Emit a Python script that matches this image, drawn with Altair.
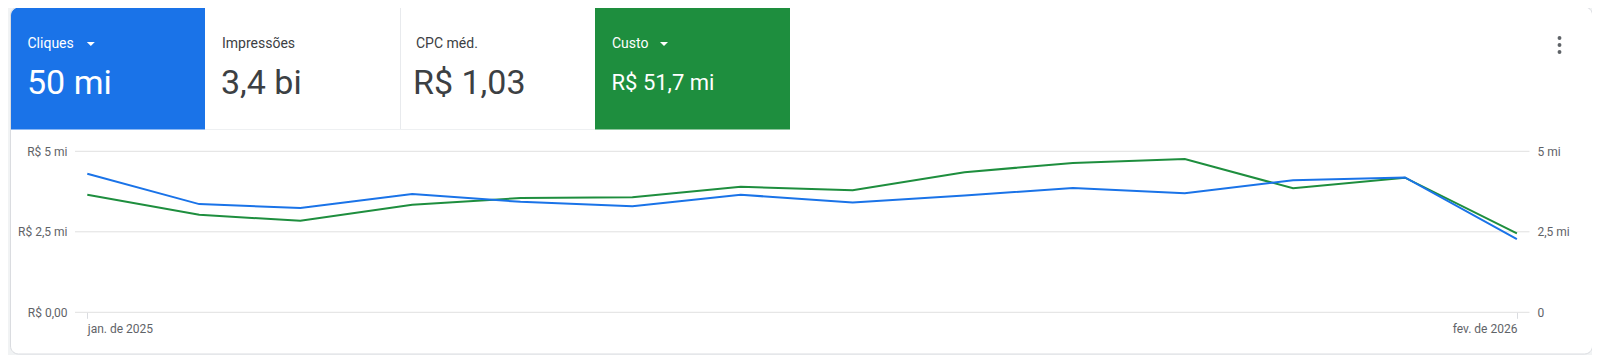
import altair as alt
import pandas as pd

# ---------------- data ----------------
months = ["2025-01-01", "2025-02-01", "2025-03-01", "2025-04-01", "2025-05-01",
          "2025-06-01", "2025-07-01", "2025-08-01", "2025-09-01", "2025-10-01",
          "2025-11-01", "2025-12-01", "2026-01-01", "2026-02-01"]
cliques_mi = [4.30, 3.36, 3.24, 3.67, 3.43, 3.29, 3.65, 3.41, 3.63, 3.86, 3.70, 4.10, 4.19, 2.27]
custo_mi = [3.65, 3.03, 2.84, 3.34, 3.55, 3.57, 3.90, 3.79, 4.35, 4.64, 4.76, 3.85, 4.18, 2.45]
grid_values = [0, 2.5e6, 5e6]
month_names = ["jan.", "fev.", "mar.", "abr.", "mai.", "jun.", "jul.", "ago.", "set.", "out.", "nov.", "dez."]

tile_titles = ["Cliques", "Impressões", "CPC méd.", "Custo"]
tile_values = ["50 mi", "3,4 bi", "R$ 1,03", "R$ 51,7 mi"]

df = pd.DataFrame({
    "month": months,
    "cliques": [v * 1e6 for v in cliques_mi],
    "custo": [v * 1e6 for v in custo_mi],
})

# ---------------- layout ----------------
FONT = "Roboto"
BLUE = "#1a73e8"
GREEN = "#1e8e3e"
GRAY_TXT = "#5f6368"
DARK_TXT = "#3c4043"
PX0, PY0 = 75.0, 151.3          # page coords of plot origin
W, H = 1454.5, 161.0
TOTAL_H = 347
PAD = {"left": PX0 - 8, "top": PY0 - 8, "right": 1584 - (PX0 - 8) - W, "bottom": TOTAL_H - (PY0 - 8) - H}


def gx(x):
    return x - PX0


def gy(y):
    return y - PY0


one = alt.Data(values=[{"k": 1}])


def rect(x1, x2, y1, y2, fill, **kw):
    return alt.Chart(one).mark_rect(fill=fill, **kw).encode(
        x=alt.value(gx(x1)), x2=alt.value(gx(x2)), y=alt.value(gy(y1)), y2=alt.value(gy(y2)))


def text(s, x, y, size, color, align="left"):
    return alt.Chart(one).mark_text(text=s, align=align, baseline="middle", font=FONT,
                                    fontSize=size, color=color).encode(
        x=alt.value(gx(x)), y=alt.value(gy(y)))


def tri(x, y, color):
    return alt.Chart(one).mark_point(shape="M-1,-0.5L1,-0.5L0,0.5Z", filled=True, size=64,
                                     color=color, opacity=1, strokeWidth=0).encode(
        x=alt.value(gx(x)), y=alt.value(gy(y)))


def dot(x, y):
    return alt.Chart(one).mark_point(shape="circle", filled=True, size=15, color=GRAY_TXT,
                                     opacity=1, strokeWidth=0).encode(
        x=alt.value(gx(x)), y=alt.value(gy(y)))


card = rect(10.5, 1592.5, 7, 354, "white", stroke="#dadce0", strokeWidth=1, cornerRadius=8)
tile_blue = rect(11, 205, 7.5, 129.6, BLUE, cornerRadiusTopLeft=8)
tile_green = rect(595, 790, 7.5, 129.6, GREEN)
div_v = rect(400, 401, 7.5, 129.6, "#e8eaed")
div_h = rect(205, 595, 129, 130, "#eef0f2")

deco = [
    card, tile_blue, tile_green, div_v, div_h,
    text(tile_titles[0], 27.5, 44, 14, "white"), tri(90.8, 44, "white"),
    text(tile_values[0], 27, 83.5, 34, "white"),
    text(tile_titles[1], 222, 44, 14, DARK_TXT),
    text(tile_values[1], 221, 83.5, 34, DARK_TXT),
    text(tile_titles[2], 416, 44, 14, DARK_TXT),
    text(tile_values[2], 413, 83.5, 34, DARK_TXT),
    text(tile_titles[3], 612, 44, 14, "white"), tri(664, 44, "white"),
    text(tile_values[3], 611.5, 82.5, 22, "white"),
    dot(1559.5, 38), dot(1559.5, 45), dot(1559.5, 52),
]

# ---------------- chart ----------------
x_dom = [alt.DateTime(year=2025, month=1, date=1, utc=True),
         alt.DateTime(year=2026, month=2, date=1, utc=True)]
month_js = "[" + ",".join("'" + m + "'" for m in month_names) + "]"

x_enc = alt.X(
    "month:T",
    scale=alt.Scale(type="utc", domain=x_dom, range=[12.3, W - 12.6]),
    axis=alt.Axis(values=x_dom, labelExpr=month_js + "[utcmonth(datum.value)] + ' de ' + utcyear(datum.value)",
                  labelFlush=True, grid=False, domain=False, ticks=True, tickSize=6,
                  tickColor="#dadce0", labelPadding=5, labelFontSize=12, labelColor=GRAY_TXT,
                  labelFont=FONT, title=None, zindex=1),
)

y_scale = alt.Scale(domain=[0, 5e6], nice=False)

grid = alt.Chart(pd.DataFrame({"v": grid_values})).mark_rule(color="#e0e0e0", strokeWidth=1).encode(
    y=alt.Y("v:Q", scale=y_scale, axis=None))

green = alt.Chart(df).mark_line(color=GREEN, strokeWidth=2).encode(
    x=x_enc,
    y=alt.Y("custo:Q", scale=y_scale,
            axis=alt.Axis(orient="left", values=grid_values,
                          labelExpr="datum.value == 0 ? 'R$ 0,00' : (datum.value == 2500000 ? 'R$ 2,5 mi' : 'R$ 5 mi')",
                          grid=False, ticks=False, domain=False, labelPadding=8, labelFontSize=12,
                          labelColor=GRAY_TXT, labelFont=FONT, title=None, zindex=1)),
)

blue = alt.Chart(df).mark_line(color=BLUE, strokeWidth=2).encode(
    x=x_enc,
    y=alt.Y("cliques:Q", scale=y_scale,
            axis=alt.Axis(orient="right", values=grid_values,
                          labelExpr="datum.value == 0 ? '0' : (datum.value == 2500000 ? '2,5 mi' : '5 mi')",
                          grid=False, ticks=False, domain=False, labelPadding=7.5, labelFontSize=12,
                          labelColor=GRAY_TXT, labelFont=FONT, title=None, zindex=1)),
)

chart = alt.layer(*deco, grid, green, blue).resolve_scale(y="independent").properties(
    width=W, height=H, padding=PAD, autosize=alt.AutoSizeParams(type="none"),
    background="#f1f3f4",
).configure_view(stroke=None)

chart.save("out.html", embed_options={"renderer": "svg", "actions": False})
